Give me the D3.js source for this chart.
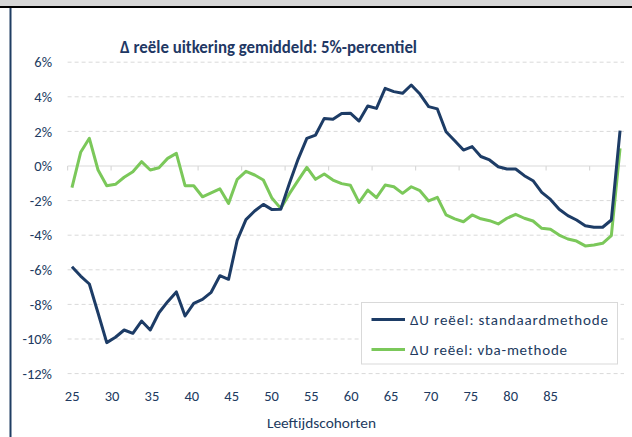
<!DOCTYPE html>
<html>
<head>
<meta charset="utf-8">
<script src="https://cdn.jsdelivr.net/npm/d3@7"></script>
<style>
  body { margin: 0; background: #ffffff; }
  svg { display: block; font-family: Carlito, Lato, 'Open Sans', sans-serif; }
</style>
</head>
<body>
<svg id="chart" width="632" height="437"></svg>
<script>
// leeftijdscohorten (categorieen op de x-as)
const ages = [
  25, 26, 27, 28, 29, 30, 31, 32, 33, 34, 35, 36, 37, 38, 39, 40,
  41, 42, 43, 44, 45, 46, 47, 48, 49, 50, 51, 52, 53, 54, 55, 56,
  57, 58, 59, 60, 61, 62, 63, 64, 65, 66, 67, 68, 69, 70, 71, 72,
  73, 74, 75, 76, 77, 78, 79, 80, 81, 82, 83, 84, 85, 86, 87, 88
]

// delta U reeel, standaardmethode (in %)
const standaard = [
  -5.82, -6.36, -6.82, -8.5, -10.21, -9.9, -9.48, -9.67, -8.96, -9.48, -8.48, -7.84, -7.28, -8.67, -7.94, -7.71,
  -7.3, -6.34, -6.55, -4.28, -3.1, -2.6, -2.22, -2.52, -2.5, -1.0, 0.4, 1.6, 1.79, 2.75, 2.7, 3.03,
  3.05, 2.6, 3.47, 3.33, 4.49, 4.3, 4.2, 4.68, 4.16, 3.43, 3.3, 1.98, 1.46, 0.92, 1.12, 0.55,
  0.35, -0.04, -0.17, -0.17, -0.56, -0.85, -1.52, -1.93, -2.5, -2.87, -3.12, -3.45, -3.54, -3.54, -3.12, 2.04
]

// delta U reeel, vba-methode (in %)
const vba = [
  -1.25, 0.79, 1.6, -0.23, -1.14, -1.06, -0.65, -0.33, 0.25, -0.23, -0.1, 0.44, 0.73, -1.14, -1.14, -1.78,
  -1.55, -1.32, -2.16, -0.77, -0.31, -0.52, -0.81, -1.87, -2.45, -1.6, -0.83, -0.08, -0.77, -0.46, -0.81, -1.02,
  -1.11, -2.1, -1.39, -1.83, -1.1, -1.2, -1.58, -1.2, -1.43, -2.02, -1.81, -2.83, -3.06, -3.22, -2.83, -3.05,
  -3.16, -3.35, -3.02, -2.79, -3.02, -3.18, -3.6, -3.66, -3.99, -4.22, -4.34, -4.62, -4.57, -4.47, -4.03, 1.02
]

const yTicks = [-12, -10, -8, -6, -4, -2, 0, 2, 4, 6]
const xLabels = [25, 30, 35, 40, 45, 50, 55, 60, 65, 70, 75, 80, 85]
const xTickAges = [25, 30, 35, 40, 45, 50, 55, 60, 65, 70, 75, 80, 85]

const series = [
  { name: 'ΔU reëel: standaardmethode', values: standaard, color: '#1d3c66', width: 198 },
  { name: 'ΔU reëel: vba-methode', values: vba, color: '#7bc85a', width: 157 }
]

const textColor = '#213a60'
const gridColor = '#d9d9d9'

const svg = d3.select('#chart')

// page decoration: grey strip, black rule, blue margin line
svg.append('rect').attr('x', 0).attr('y', 0).attr('width', 632).attr('height', 7).attr('fill', '#d6d6d6')
svg.append('rect').attr('x', 0).attr('y', 6).attr('width', 632).attr('height', 2).attr('fill', '#000')
svg.append('rect').attr('x', 9.5).attr('y', 8).attr('width', 2).attr('height', 429).attr('fill', '#1f3d63')

// scales
const x = d3.scaleBand().domain(ages).range([67.6, 624.4]).paddingInner(0).paddingOuter(0)
const cx = d => x(d) + x.bandwidth() / 2
const y = d3.scaleLinear().domain([-12, 6]).range([373.6, 62.2])
// the category labels in the original sit on their own spacing
const xLabel = d3.scaleLinear().domain([25, 85]).range([71.7, 550])

// title
svg.append('text')
  .attr('x', 268.5)
  .attr('y', 53)
  .attr('text-anchor', 'middle')
  .attr('textLength', 297)
  .attr('lengthAdjust', 'spacingAndGlyphs')
  .style('font-size', '17.5px')
  .style('font-weight', 'bold')
  .style('fill', '#1f3864')
  .text('Δ reële uitkering gemiddeld: 5%-percentiel')

// horizontal gridlines
const g = svg.append('g')
g.selectAll('line.grid')
  .data(yTicks.filter(t => t !== 0))
  .enter()
  .append('line')
  .attr('class', 'grid')
  .attr('x1', 67.6)
  .attr('x2', 624)
  .attr('y1', d => y(d))
  .attr('y2', d => y(d))
  .attr('stroke', gridColor)
  .attr('stroke-width', 1)
  .attr('stroke-dasharray', '4,3')

// zero line with category tick marks
g.append('line')
  .attr('x1', 67.6).attr('x2', 626)
  .attr('y1', y(0)).attr('y2', y(0))
  .attr('stroke', gridColor)
  .attr('stroke-width', 1.2)
g.selectAll('line.tick')
  .data(xTickAges)
  .enter()
  .append('line')
  .attr('class', 'tick')
  .attr('x1', d => x(d))
  .attr('x2', d => x(d))
  .attr('y1', y(0))
  .attr('y2', y(0) + 4.5)
  .attr('stroke', gridColor)
  .attr('stroke-width', 1.2)

// y axis labels
g.append('g')
  .attr('transform', 'translate(67,0)')
  .style('font-size', '14.5px')
  .call(d3.axisLeft(y).tickValues(yTicks).tickSize(0).tickPadding(15).tickFormat(d => d + '%'))
  .call(g => g.select('.domain').remove())
  .selectAll('text')
  .style('fill', textColor)
  .style('font-family', 'Carlito, Lato, sans-serif')

// x axis labels
g.append('g')
  .attr('transform', 'translate(0,' + 385 + ')')
  .style('font-size', '14.5px')
  .call(d3.axisBottom(xLabel).tickValues(xLabels).tickSize(0).tickPadding(6).tickFormat(d3.format('d')))
  .call(g => g.select('.domain').remove())
  .selectAll('text')
  .style('fill', textColor)
  .style('font-family', 'Carlito, Lato, sans-serif')

// x axis title
svg.append('text')
  .attr('x', 321.5)
  .attr('y', 427.5)
  .attr('text-anchor', 'middle')
  .attr('textLength', 109)
  .attr('lengthAdjust', 'spacingAndGlyphs')
  .style('font-size', '14.5px')
  .style('fill', textColor)
  .text('Leeftijdscohorten')

// lines
const line = d3.line()
  .x((d, i) => cx(ages[i]))
  .y(d => y(d))

svg.append('g')
  .selectAll('path.series')
  .data(series.slice().reverse())
  .enter()
  .append('path')
  .attr('class', 'series')
  .attr('d', d => line(d.values))
  .attr('fill', 'none')
  .attr('stroke', d => d.color)
  .attr('stroke-width', 3)
  .attr('stroke-linejoin', 'round')

// legend
const legend = svg.append('g').attr('transform', 'translate(361.5,302.5)')
legend.append('rect')
  .attr('width', 256)
  .attr('height', 61.5)
  .attr('fill', '#fff')
  .attr('stroke', gridColor)
  .attr('stroke-width', 1)
const item = legend.selectAll('g.item')
  .data(series)
  .enter()
  .append('g')
  .attr('class', 'item')
  .attr('transform', (d, i) => 'translate(0,' + (17 + i * 30) + ')')
item.append('line')
  .attr('x1', 10).attr('x2', 43.5)
  .attr('y1', 0).attr('y2', 0)
  .attr('stroke', d => d.color)
  .attr('stroke-width', 3)
item.append('text')
  .attr('x', 48.5)
  .attr('y', 5.5)
  .attr('textLength', d => d.width)
  .attr('lengthAdjust', 'spacing')
  .style('font-size', '15px')
  .style('fill', textColor)
  .text(d => d.name)
</script>
</body>
</html>
